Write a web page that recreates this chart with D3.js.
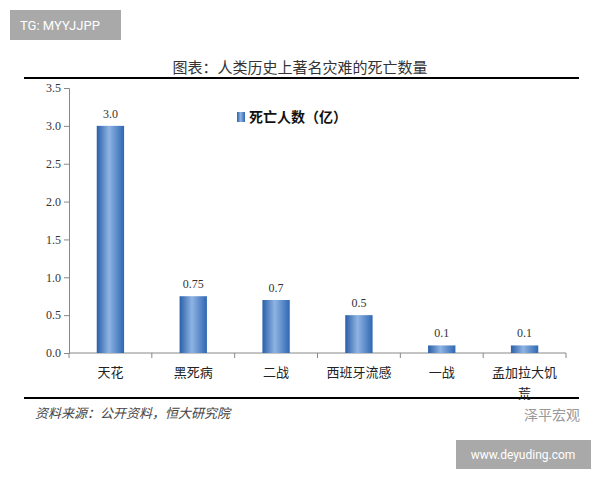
<!DOCTYPE html>
<html lang="zh">
<head>
<meta charset="utf-8">
<script src="https://d3js.org/d3.v7.js"></script>
<style>body{margin:0;background:#fff}</style>
</head>
<body>
<script>
const w = 600, h = 480;
const categories = ["天花", "黑死病", "二战", "西班牙流感", "一战", "孟加拉大饥荒"];
const deaths = [3.0, 0.75, 0.7, 0.5, 0.1, 0.1];
const labels = ["3.0", "0.75", "0.7", "0.5", "0.1", "0.1"];
const yTicks = [0, 0.5, 1.0, 1.5, 2.0, 2.5, 3.0, 3.5];

const svg = d3.select("body").append("svg").attr("width", w).attr("height", h);
const cjk = "'Noto Sans CJK SC', sans-serif";
const serif = "'Liberation Serif', 'DejaVu Serif', serif";

const defs = svg.append("defs");
const grad = defs.append("linearGradient").attr("id", "bar");
grad.append("stop").attr("offset", "0%").attr("stop-color", "#2a5fa8");
grad.append("stop").attr("offset", "45%").attr("stop-color", "#8fb4e3");
grad.append("stop").attr("offset", "100%").attr("stop-color", "#2f67b3");

// watermark boxes
svg.append("rect").attr("x", 10).attr("y", 10).attr("width", 111).attr("height", 30).attr("fill", "#a9a9a9");
svg.append("text").attr("x", 20).attr("y", 30).attr("fill", "#fff").attr("font-size", 13)
  .attr("font-family", "Roboto, sans-serif").text("TG: MYYJJPP");
svg.append("rect").attr("x", 456).attr("y", 440).attr("width", 135).attr("height", 29).attr("fill", "#a9a9a9");
svg.append("text").attr("x", 523).attr("y", 459).attr("fill", "#fff").attr("font-size", 12)
  .attr("text-anchor", "middle").attr("font-family", "Roboto, sans-serif").text("www.deyuding.com");

// title and rules
svg.append("text").attr("x", 300).attr("y", 73).attr("text-anchor", "middle").attr("font-size", 15)
  .attr("fill", "#333").attr("font-family", cjk).text("图表：人类历史上著名灾难的死亡数量");
svg.append("line").attr("x1", 24).attr("x2", 579).attr("y1", 78).attr("y2", 78).attr("stroke", "#000").attr("stroke-width", 2);
svg.append("line").attr("x1", 24).attr("x2", 579).attr("y1", 398).attr("y2", 398).attr("stroke", "#000").attr("stroke-width", 2);
svg.append("text").attr("x", 35).attr("y", 418).attr("font-size", 13).attr("font-style", "italic")
  .attr("fill", "#444").attr("font-family", cjk).text("资料来源：公开资料，恒大研究院");
svg.append("text").attr("x", 580).attr("y", 420).attr("text-anchor", "end").attr("font-size", 14)
  .attr("fill", "#999").attr("font-family", cjk).text("泽平宏观");

const x = d3.scaleBand().domain(categories).range([69, 566]).paddingInner(0.67).paddingOuter(0.335);
const y = d3.scaleLinear().domain([0, 3.5]).range([353, 88]);

const yAxis = svg.append("g").attr("transform", "translate(69,0)")
  .call(d3.axisLeft(y).tickValues(yTicks).tickFormat(d3.format(".1f")).tickSizeOuter(0).tickSize(5));
yAxis.selectAll("text").attr("font-family", serif).attr("font-size", 12).attr("fill", "#333");

const band = d3.scaleBand().domain(categories).range([69, 566]);
const xAxis = svg.append("g").attr("transform", "translate(0,353)");
xAxis.append("line").attr("x1", 69).attr("x2", 566).attr("stroke", "#888");
xAxis.selectAll("line.t").data(categories.concat(["end"])).enter().append("line")
  .attr("x1", (d, i) => 69 + i * band.bandwidth()).attr("x2", (d, i) => 69 + i * band.bandwidth())
  .attr("y1", 0).attr("y2", 5).attr("stroke", "#888");
yAxis.selectAll("line, path").attr("stroke", "#888");

function wrapLabel(s) { return s.length > 5 ? [s.slice(0, 5), s.slice(5)] : [s]; }
xAxis.selectAll("text.c").data(categories).enter().append("text")
  .attr("x", d => band(d) + band.bandwidth() / 2).attr("y", 24)
  .attr("text-anchor", "middle").attr("font-size", 13).attr("font-family", cjk).attr("fill", "#222")
  .each(function(d) {
    wrapLabel(d).forEach((s, i) => d3.select(this).append("tspan")
      .attr("x", band(d) + band.bandwidth() / 2).attr("dy", i ? 21 : 0).text(s));
  });

svg.selectAll("rect.bar").data(categories).enter().append("rect")
  .attr("x", d => x(d)).attr("width", x.bandwidth())
  .attr("y", (d, i) => y(deaths[i])).attr("height", (d, i) => 353 - y(deaths[i]))
  .attr("fill", "url(#bar)");

svg.selectAll("text.v").data(categories).enter().append("text")
  .attr("x", d => x(d) + x.bandwidth() / 2).attr("y", (d, i) => y(deaths[i]) - 8)
  .attr("text-anchor", "middle").attr("font-size", 12).attr("font-family", serif).attr("fill", "#333")
  .text((d, i) => labels[i]);

// legend
svg.append("rect").attr("x", 237).attr("y", 112).attr("width", 8).attr("height", 10).attr("fill", "url(#bar)");
svg.append("text").attr("x", 249).attr("y", 122).attr("font-size", 14).attr("font-weight", "bold")
  .attr("font-family", cjk).attr("fill", "#111").text("死亡人数（亿）");
</script>
</body>
</html>
